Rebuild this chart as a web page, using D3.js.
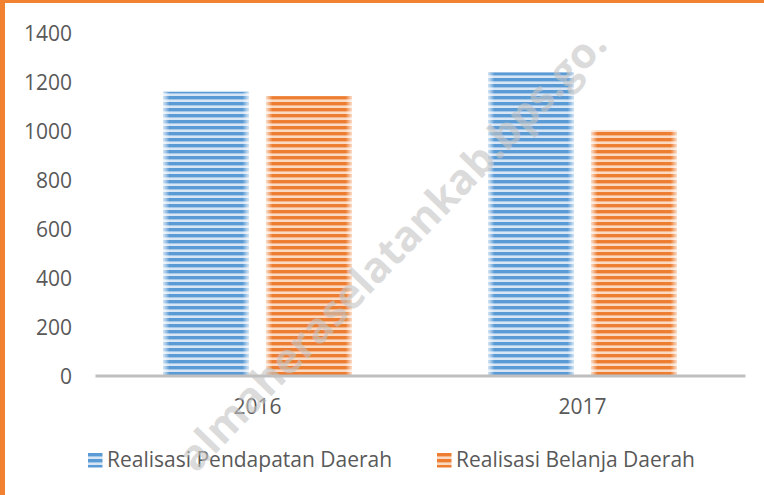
<!DOCTYPE html>
<html>
<head>
<meta charset="utf-8">
<script src="https://cdn.jsdelivr.net/npm/d3@7/dist/d3.min.js"></script>
<style>
  html, body { margin: 0; padding: 0; background: #fff; }
  svg { display: block; }
  text { font-family: "Open Sans", sans-serif; }
</style>
</head>
<body>
<svg id="chart" width="764" height="495"></svg>
<script>
const categories = ["2016", "2017"];
const seriesNames = ["Realisasi Pendapatan Daerah", "Realisasi Belanja Daerah"];
const pendapatan = [1160, 1239];
const belanja = [1142, 1003];
const yTicks = [0, 200, 400, 600, 800, 1000, 1200, 1400];
const watermark = "almaheraselatankab.bps.go.";

const colors = [
  { dark: "#5b9bd5", light: "#d7e5f4" },
  { dark: "#ed7d31", light: "#fbdac4" }
];

const W = 764, H = 495;
const svg = d3.select("#chart");
const defs = svg.append("defs");

colors.forEach((c, i) => {
  const p = defs.append("pattern")
    .attr("id", "stripe" + i)
    .attr("patternUnits", "userSpaceOnUse")
    .attr("width", 10).attr("height", 6);
  p.append("rect").attr("width", 10).attr("height", 6).attr("fill", c.light);
  p.append("rect").attr("y", 0).attr("width", 10).attr("height", 3.4).attr("fill", c.dark);
});
const g = defs.append("linearGradient").attr("id", "edge").attr("x1", 0).attr("x2", 1);
[[0, 0.7], [0.07, 0.0], [0.93, 0.0], [1, 0.7]].forEach(([o, a]) =>
  g.append("stop").attr("offset", o).attr("stop-color", "#fff").attr("stop-opacity", a));

const data = categories.map((c, i) => ({ cat: c, values: [pendapatan[i], belanja[i]] }));

const x = d3.scaleBand().domain(categories).range([95, 745]).paddingInner(0).paddingOuter(0);
const xs = d3.scaleBand().domain([0, 1]).range([0, x.bandwidth()]).paddingInner(0.1748).paddingOuter(0.665);
const y = d3.scaleLinear().domain([0, 1400]).range([375.5, 33]);

// y tick labels
const yAxis = d3.axisLeft(y).tickValues(yTicks).tickFormat(d3.format("d")).tickSize(0).tickPadding(0);
const ya = svg.append("g").attr("transform", "translate(72,0)").call(yAxis);
ya.select(".domain").remove();
ya.selectAll("text")
  .attr("fill", "#595959").style("font-size", "21px")
  .attr("dy", "0.36em");

// bars
const groups = svg.append("g").selectAll("g").data(data).join("g")
  .attr("transform", d => `translate(${x(d.cat)},0)`);
groups.selectAll("rect.bar").data(d => d.values.map((v, i) => ({ v, i }))).join("rect")
  .attr("class", "bar")
  .attr("x", d => xs(d.i)).attr("width", xs.bandwidth())
  .attr("y", d => y(d.v)).attr("height", d => y(0) - y(d.v))
  .attr("fill", d => `url(#stripe${d.i})`);
groups.selectAll("rect.edge").data(d => d.values.map((v, i) => ({ v, i }))).join("rect")
  .attr("class", "edge")
  .attr("x", d => xs(d.i)).attr("width", xs.bandwidth())
  .attr("y", d => y(d.v)).attr("height", d => y(0) - y(d.v))
  .attr("fill", "url(#edge)");

// x axis
const xAxis = d3.axisBottom(x).tickSize(0).tickPadding(0);
const xa = svg.append("g").attr("transform", `translate(0,${y(0)})`).call(xAxis);
xa.select(".domain").attr("stroke", "#bfbfbf").attr("stroke-width", 3.2);
xa.selectAll("text")
  .attr("fill", "#595959").style("font-size", "21px")
  .attr("y", 38.5).attr("dy", 0);

// legend
const legendX = [88, 437];
const lg = svg.append("g").selectAll("g").data(seriesNames).join("g")
  .attr("transform", (d, i) => `translate(${legendX[i]},453)`);
lg.append("rect").attr("width", 14.5).attr("height", 14.5)
  .attr("fill", (d, i) => `url(#stripe${i})`);
lg.append("text").attr("x", 19).attr("y", 14)
  .attr("fill", "#595959").style("font-size", "21px")
  .text(d => d);

// watermark
svg.append("text")
  .attr("transform", "translate(392,250) rotate(-46)")
  .attr("text-anchor", "middle")
  .attr("dy", "0.35em")
  .attr("fill", "#c4c4c4").attr("fill-opacity", 0.6)
  .style("font-size", "42px").style("font-weight", "700")
  .text(watermark);

// orange frame (top and left)
svg.append("rect").attr("x", 0).attr("y", 0).attr("width", W).attr("height", 3).attr("fill", "#f08232");
svg.append("rect").attr("x", 0).attr("y", 0).attr("width", 5).attr("height", H).attr("fill", "#f08232");
</script>
</body>
</html>
